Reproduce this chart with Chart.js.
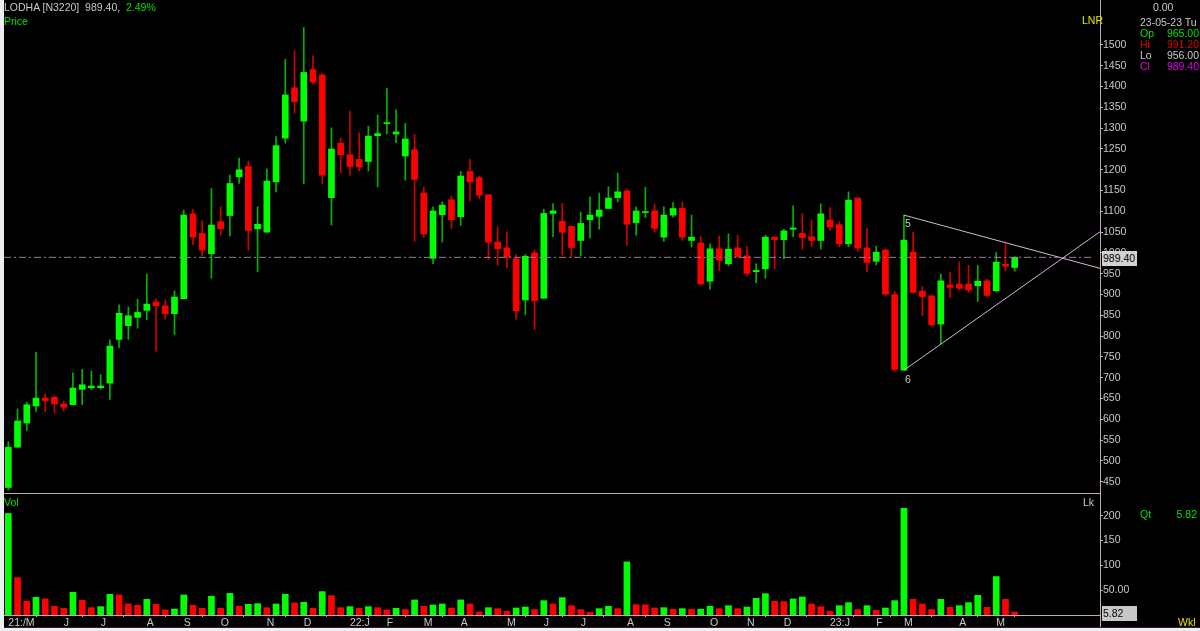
<!DOCTYPE html>
<html>
<head>
<meta charset="utf-8">
<script src="https://cdn.jsdelivr.net/npm/chart.js@4.4.0/dist/chart.umd.min.js"></script>
<style>
  body { margin: 0; background: #eceef2; font-family: 'Liberation Sans', Arial, sans-serif; font-size: 10.5px; }
  #wrap { position: relative; width: 1200px; height: 631px; overflow: hidden; }
  #panel { position: absolute; left: 4px; top: 0; width: 1196px; height: 627px; background: #000; border-bottom: 1px solid #3a1a3a; }
  canvas { position: absolute; left: 0; }
  .t { position: absolute; white-space: nowrap; line-height: 12px; }
  .gray { color: #c8c8c8; }
  .green { color: #00e000; }
  .red { color: #e00000; }
  .mag { color: #e000e0; }
  .yel { color: #e4e400; }
  .box { position: absolute; background: #d2d2d2; color: #000; line-height: 15px; height: 15px; padding-left: 1px; }
  .hline { position: absolute; background: #c0a8c0; }
</style>
</head>
<body>
<div id="wrap">
  <div id="panel"></div>
  <canvas id="price" width="1200" height="493" style="top:0"></canvas>
  <div class="hline" style="left:4px; top:493px; width:1097px; height:1px;"></div>
  <canvas id="volume" width="1200" height="133" style="top:494px"></canvas>
  <div class="hline" style="left:1100px; top:614px; width:1px; height:13px;"></div>

  <div class="t gray" style="left:4px; top:1px;">LODHA [N3220]&nbsp; 989.40, &nbsp;<span class="green">2.49%</span></div>
  <div class="t green" style="left:4px; top:15px;">Price</div>
  <div class="t yel" style="left:1082px; top:14px;">LNR</div>

  <div class="t gray" style="left:1153px; top:1px;">0.00</div>
  <div class="t gray" style="left:1140px; top:16px;">23-05-23 Tu</div>
  <div class="t green" style="left:1140px; top:27px;">Op</div>
  <div class="t green" style="right:1px; top:27px;">965.00</div>
  <div class="t red" style="left:1140px; top:38px;">Hi</div>
  <div class="t red" style="right:1px; top:38px;">991.20</div>
  <div class="t gray" style="left:1140px; top:49px;">Lo</div>
  <div class="t gray" style="right:1px; top:49px;">956.00</div>
  <div class="t mag" style="left:1140px; top:60px;">Cl</div>
  <div class="t mag" style="right:1px; top:60px;">989.40</div>

  <div class="box" style="left:1102px; top:251px; width:34px;">989.40</div>

  <div class="t gray" style="left:905px; top:217px;">5</div>
  <div class="t gray" style="left:905px; top:373px;">6</div>

  <div class="t green" style="left:4px; top:496px;">Vol</div>
  <div class="t gray" style="left:1083px; top:496px;">Lk</div>
  <div class="t green" style="left:1140px; top:508px;">Qt</div>
  <div class="t green" style="right:3px; top:508px;">5.82</div>
  <div class="box" style="left:1102px; top:606px; width:34px; background:#c8c8c8;">5.82</div>
  <div class="t yel" style="left:1178px; top:616px;">Wkl</div>
</div>

<script>
// weekly OHLC
const opens  = [436,533,591,632,651,653,637,635,672,676,676,687,792,825,845,862,882,873,854,890,
                1094,1047,998,1075,1090,1183,1208,1058,1050,1171,1276,1397,1317,1441,1428,1133,1264,1236,1225,1220,
                1282,1311,1286,1233,1248,1144,987,1092,1128,1087,1196,1181,1140,1026,1012,986,887,1000,891,1095,
                1076,1064,1030,1080,1088,1107,1133,1149,1073,1097,1101,1038,1091,1107,1030,1024,932,1010,974,1012,
                993,955,962,1038,1032,1057,1047,1039,1030,1079,1068,1022,1132,1012,980,1007,900,718,1002,908,
                897,829,923,925,925,921,933,909,973,965];
const highs  = [546,625,641,761,661,655,644,712,720,716,707,791,875,870,889,949,889,887,909,1103,
                1105,1077,1155,1111,1187,1228,1221,1111,1202,1280,1466,1486,1542,1474,1432,1301,1277,1341,1289,1305,
                1332,1396,1344,1312,1285,1158,1111,1123,1137,1196,1225,1185,1140,1063,1051,996,996,1007,1105,1119,
                1119,1064,1098,1135,1144,1159,1192,1155,1111,1158,1117,1111,1121,1123,1091,1039,1022,1041,1046,1043,
                1016,974,1043,1038,1057,1113,1095,1079,1118,1109,1075,1147,1132,1059,1016,1009,907,1091,1050,919,
                897,949,954,978,970,970,937,1001,1022,991.2];
const lows   = [430,533,573,619,619,615,620,635,635,671,672,648,772,792,819,839,764,841,804,890,
                1020,993,939,1043,1041,1167,1006,955,1050,1147,1264,1336,1167,1406,1167,1067,1193,1187,1197,1197,
                1159,1286,1265,1175,1028,1038,974,1026,1059,1066,1125,1131,984,970,964,841,852,816,891,1039,
                995,990,993,1036,1057,1107,1123,1018,1043,1085,1050,1028,1086,1030,1014,923,912,958,969,990,
                945,928,939,962,986,1039,1009,1015,1009,1055,1015,1015,1003,955,971,898,715,718,903,849,
                825,781,893,911,905,883,895,907,957,956];
const closes = [533,596,635,651,645,637,629,675,683,680,680,776,855,849,857,877,873,854,894,1091,
                1038,1007,1067,1058,1167,1200,1054,1069,1173,1258,1380,1364,1434,1411,1187,1250,1236,1208,1207,1281,
                1287,1313,1291,1274,1177,1046,1101,1115,1080,1185,1171,1139,1026,1010,991,861,992,885,1095,1101,
                1050,1013,1071,1091,1103,1132,1147,1069,1101,1099,1059,1091,1107,1038,1038,926,1010,982,1009,991,
                951,958,1038,1032,1053,1060,1037,1030,1094,1062,1022,1127,1012,977,1002,901,720,1031,905,895,
                827,933,917,915,911,932,898,978,968,989.4];
// weekly volume in lakh shares
const volumes = [204.5,75.3,27.6,35.7,32.3,17.5,13.5,45.7,29.6,14.8,16.8,41.7,40.4,22.2,19.5,31.6,21.5,10.1,12.1,40.4,
                 19.5,13.5,37.7,13.5,43.7,17.5,21.5,22.9,14.8,22.2,41.7,24.2,25.6,13.5,47.1,39.0,14.8,16.8,13.5,16.8,
                 14.8,10.1,13.5,10.8,30.3,17.5,20.2,22.2,14.1,30.3,22.2,6.1,14.8,12.8,7.4,14.1,16.1,10.8,28.9,22.2,
                 35.0,18.8,10.8,5.4,12.8,17.5,12.8,107,20.9,20.5,14.1,14.8,11.4,12.8,11.4,11.8,17.5,12.8,18.8,12.8,
                 16.1,33.6,43.0,27.6,27.0,32.3,36.3,22.2,16.8,7.4,18.8,24.9,10.8,18.8,9.4,14.1,28.9,215,31.6,22.2,
                 10.8,31.6,15.5,18.8,24.9,39.7,15.5,77.4,31.6,5.82];

const priceTicks = [450,500,550,600,650,700,750,800,850,900,950,1000,1050,1100,1150,1200,1250,1300,1350,1400,1450,1500];
const volTicks = [50, 100, 150, 200];
const volTickText = ['50.00', '100', '150', '200'];
const monthIdx  = [1, 7, 11, 16, 20, 24, 29, 33, 38, 42, 46, 50, 55, 59, 63, 68, 72, 77, 81, 85, 90, 95, 98, 104, 108];
const monthText = ['21:/M','J','J','A','S','O','N','D','22:J','F','M','A','M','J','J','A','S','O','N','D','23:J','F','M','A','M'];

const lastClose = 989.40;
const trendUpper = [[98, 1091], [119.24, 963]];   // line through the "5" high
const trendLower = [[98, 718], [119.24, 1051]];   // line through the "6" low

const xMin = 0.534, xMax = 119.24;

const idx = opens.map((_, i) => i + 1);
const up = idx.map((_, i) => closes[i] >= opens[i]);
const volUp = volumes.map((v, i) => i === 0 || v >= volumes[i - 1]);

const font = { family: "'Liberation Sans', Arial, sans-serif", size: 10.5 };
const axisColor = '#c0a8c0';
const noPad = s => { s.paddingTop = 0; s.paddingBottom = 0; s.paddingLeft = 0; s.paddingRight = 0; };

function rightAxis(min, max, ticks, labels) {
    return {
        type: 'linear',
        position: 'right',
        min: min,
        max: max,
        afterBuildTicks: s => { s.ticks = ticks.map(v => ({ value: v })); },
        afterFit: s => { s.width = 100; noPad(s); },
        ticks: {
            color: '#c8c8c8',
            padding: 0,
            font: font,
            autoSkip: false,
            callback: (v, i) => labels ? labels[i] : String(v)
        },
        grid: { drawOnChartArea: false, color: axisColor, tickLength: 3 },
        border: { color: axisColor }
    };
}

new Chart(document.getElementById('price'), {
    type: 'bar',
    data: {
        datasets: [{
            type: 'line',
            data: [{ x: xMin, y: lastClose }, { x: 118.4, y: lastClose }],
            borderColor: '#9c7a9c',
            borderWidth: 1,
            borderDash: [7, 3, 2, 3],
            pointRadius: 0,
            order: 0
        }, {
            type: 'line',
            data: trendUpper.map(p => ({ x: p[0], y: p[1] })),
            borderColor: '#d4b6d4',
            borderWidth: 1,
            pointRadius: 0,
            order: 0
        }, {
            type: 'line',
            data: trendLower.map(p => ({ x: p[0], y: p[1] })),
            borderColor: '#d4b6d4',
            borderWidth: 1,
            pointRadius: 0,
            order: 0
        }, {
            data: idx.map((x, i) => ({ x: x, y: [opens[i], closes[i]] })),
            backgroundColor: up.map(u => u ? '#00ff00' : '#ff0000'),
            barThickness: 6,
            minBarLength: 1,
            grouped: false,
            order: 1
        }, {
            data: idx.map((x, i) => ({ x: x, y: [lows[i], highs[i]] })),
            backgroundColor: up.map(u => u ? '#00b400' : '#d00000'),
            barThickness: 1,
            grouped: false,
            order: 2
        }]
    },
    options: {
        responsive: false,
        animation: false,
        events: [],
        layout: { padding: { left: 4, top: 0, right: 0, bottom: 0 }, autoPadding: false },
        plugins: { legend: { display: false }, tooltip: { enabled: false } },
        scales: {
            x: { type: 'linear', min: xMin, max: xMax, offset: false, display: false },
            y: rightAxis(422.8, 1608.2, priceTicks, null)
        }
    }
});

new Chart(document.getElementById('volume'), {
    type: 'bar',
    data: {
        datasets: [{
            data: idx.map((x, i) => ({ x: x, y: volumes[i] })),
            backgroundColor: volUp.map(u => u ? '#00ff00' : '#ff0000'),
            barThickness: 6,
            grouped: false
        }]
    },
    options: {
        responsive: false,
        animation: false,
        events: [],
        layout: { padding: { left: 4, top: 0, right: 0, bottom: 0 }, autoPadding: false },
        plugins: { legend: { display: false }, tooltip: { enabled: false } },
        scales: {
            x: {
                type: 'linear',
                min: xMin,
                max: xMax,
                offset: false,
                afterBuildTicks: s => { s.ticks = monthIdx.map(v => ({ value: v })); },
                afterFit: s => { s.height = 12; noPad(s); },
                ticks: {
                    color: '#c8c8c8',
                    padding: 0,
                    font: font,
                    align: 'start',
                    maxRotation: 0,
                    autoSkip: false,
                    callback: (v, i) => monthText[i]
                },
                grid: { drawOnChartArea: false, color: axisColor, tickLength: 2 },
                border: { color: axisColor }
            },
            y: rightAxis(0, 243.7, volTicks, volTickText)
        }
    }
});
</script>
</body>
</html>
